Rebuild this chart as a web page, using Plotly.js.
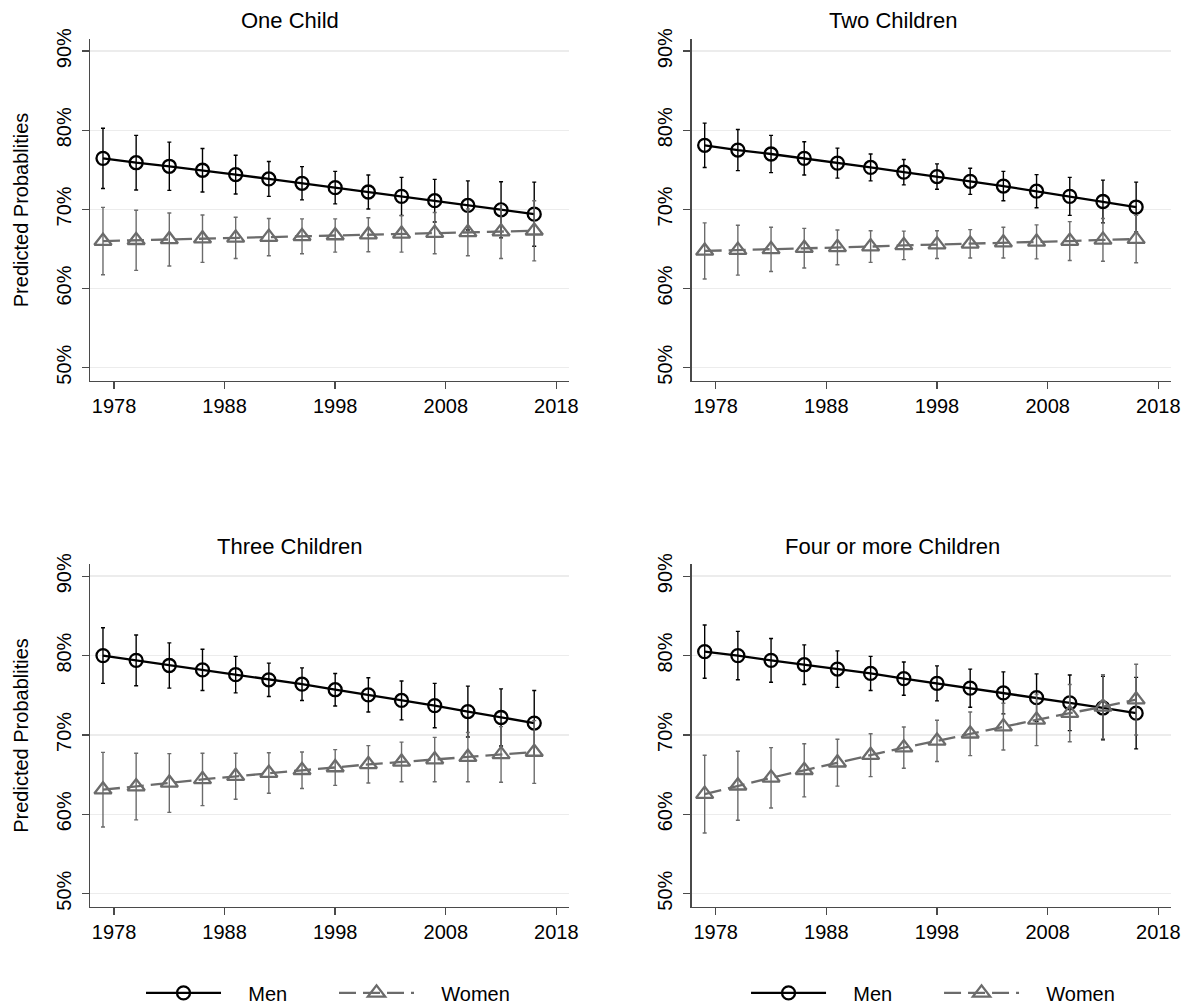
<!DOCTYPE html>
<html>
<head>
<meta charset="utf-8">
<script src="https://cdn.plot.ly/plotly-3.0.1.min.js"></script>
<style>
  html, body { margin: 0; padding: 0; background: #ffffff; }
  #chart { width: 1191px; height: 1007px; }
</style>
</head>
<body>
<div id="chart"></div>
<script>
// Survey years (x positions of every estimate)
const years = [1977, 1980, 1983, 1986, 1989, 1992, 1995, 1998, 2001, 2004, 2007, 2010, 2013, 2016];
const xTicks = [1978, 1988, 1998, 2008, 2018];
const yTicks = [50, 60, 70, 80, 90];
const yTickLabels = ['50%', '60%', '70%', '80%', '90%'];
const panelTitles = ['One Child', 'Two Children', 'Three Children', 'Four or more Children'];
const seriesNames = ['Men', 'Women'];

// Predicted probabilities (%) and half-width of the confidence interval (%)
const oneChildMen     = [76.45, 75.9, 75.45, 74.95, 74.4, 73.85, 73.3, 72.75, 72.2, 71.65, 71.1, 70.5, 69.95, 69.4];
const oneChildMenCI   = [3.8, 3.45, 3.05, 2.75, 2.45, 2.2, 2.1, 2.05, 2.15, 2.4, 2.7, 3.1, 3.55, 4.05];
const oneChildWomen   = [66.0, 66.1, 66.2, 66.3, 66.4, 66.5, 66.6, 66.7, 66.8, 66.9, 67.0, 67.1, 67.2, 67.3];
const oneChildWomenCI = [4.25, 3.8, 3.35, 3.0, 2.6, 2.35, 2.2, 2.1, 2.15, 2.3, 2.6, 2.95, 3.4, 3.8];

const twoChildMen     = [78.1, 77.5, 77.0, 76.45, 75.85, 75.3, 74.7, 74.15, 73.55, 72.95, 72.3, 71.65, 71.0, 70.3];
const twoChildMenCI   = [2.8, 2.6, 2.35, 2.1, 1.9, 1.7, 1.6, 1.6, 1.65, 1.85, 2.1, 2.4, 2.7, 3.15];
const twoChildWomen   = [64.75, 64.85, 64.95, 65.1, 65.2, 65.3, 65.45, 65.55, 65.65, 65.8, 65.9, 66.0, 66.15, 66.25];
const twoChildWomenCI = [3.55, 3.15, 2.8, 2.5, 2.2, 2.0, 1.8, 1.75, 1.8, 1.95, 2.15, 2.45, 2.7, 3.0];

const threeChildMen     = [80.0, 79.4, 78.75, 78.2, 77.6, 76.95, 76.4, 75.7, 75.05, 74.35, 73.7, 72.95, 72.2, 71.5];
const threeChildMenCI   = [3.5, 3.2, 2.85, 2.6, 2.3, 2.1, 2.05, 2.05, 2.15, 2.45, 2.8, 3.2, 3.6, 4.1];
const threeChildWomen   = [63.1, 63.5, 63.95, 64.4, 64.8, 65.2, 65.55, 65.9, 66.3, 66.6, 66.9, 67.2, 67.55, 67.85];
const threeChildWomenCI = [4.7, 4.2, 3.7, 3.3, 2.9, 2.55, 2.3, 2.25, 2.35, 2.5, 2.8, 3.1, 3.5, 3.95];

const fourPlusMen     = [80.5, 80.0, 79.4, 78.85, 78.3, 77.75, 77.1, 76.5, 75.9, 75.3, 74.7, 74.05, 73.4, 72.75];
const fourPlusMenCI   = [3.35, 3.05, 2.75, 2.5, 2.3, 2.15, 2.1, 2.2, 2.4, 2.65, 3.0, 3.5, 4.0, 4.5];
const fourPlusWomen   = [62.55, 63.6, 64.6, 65.55, 66.5, 67.45, 68.4, 69.25, 70.15, 71.05, 71.9, 72.75, 73.55, 74.45];
const fourPlusWomenCI = [4.9, 4.35, 3.8, 3.35, 2.95, 2.7, 2.6, 2.6, 2.75, 2.95, 3.25, 3.6, 4.05, 4.45];

const FONT = 'Liberation Sans, Arial, Helvetica, sans-serif';
const MEN_COLOR = '#000000';
const WOMEN_COLOR = '#6b6b6b';
const AXIS_COLOR = '#4a4a4a';
// leading non-breaking spaces keep a wider gap between legend keys and labels
const LEGEND_PAD = '\u00A0\u00A0\u00A0\u00A0';

const panels = [
  { men: oneChildMen,   menCI: oneChildMenCI,   women: oneChildWomen,   womenCI: oneChildWomenCI,   legend: null },
  { men: twoChildMen,   menCI: twoChildMenCI,   women: twoChildWomen,   womenCI: twoChildWomenCI,   legend: null },
  { men: threeChildMen, menCI: threeChildMenCI, women: threeChildWomen, womenCI: threeChildWomenCI, legend: 'legend' },
  { men: fourPlusMen,   menCI: fourPlusMenCI,   women: fourPlusWomen,   womenCI: fourPlusWomenCI,   legend: 'legend2' }
];

const traces = [];
panels.forEach((p, i) => {
  const sfx = i === 0 ? '' : String(i + 1);
  const common = { x: years, xaxis: 'x' + sfx, yaxis: 'y' + sfx, mode: 'lines+markers', hoverinfo: 'x+y' };
  traces.push(Object.assign({}, common, {
    name: LEGEND_PAD + seriesNames[0],
    y: p.men,
    line: { color: MEN_COLOR, width: 2.3 },
    marker: { symbol: 'circle-open', size: 13, color: MEN_COLOR, line: { width: 2.3, color: MEN_COLOR } },
    error_y: { type: 'data', array: p.menCI, visible: true, color: MEN_COLOR, thickness: 1.4, width: 2 },
    showlegend: p.legend !== null,
    legend: p.legend || 'legend'
  }));
  traces.push(Object.assign({}, common, {
    name: LEGEND_PAD + seriesNames[1],
    y: p.women,
    line: { color: WOMEN_COLOR, width: 2.3, dash: '17px,7px' },
    marker: { symbol: 'triangle-up-open', size: 15, color: WOMEN_COLOR, line: { width: 2.3, color: WOMEN_COLOR } },
    error_y: { type: 'data', array: p.womenCI, visible: true, color: WOMEN_COLOR, thickness: 1.4, width: 2 },
    showlegend: p.legend !== null,
    legend: p.legend || 'legend'
  }));
});

function xAxis(domain, anchor) {
  return {
    domain: domain, anchor: anchor,
    range: [1975.83, 2019.15],
    tickvals: xTicks, ticktext: xTicks.map(String),
    showgrid: false, zeroline: false,
    showline: true, linecolor: AXIS_COLOR, linewidth: 1.4,
    ticks: 'outside', ticklen: 7, tickwidth: 1.4, tickcolor: AXIS_COLOR,
    tickfont: { family: FONT, size: 20, color: '#000' }
  };
}
function yAxis(domain, anchor, withTitle) {
  const ax = {
    domain: domain, anchor: anchor,
    range: [48.36, 91.5],
    tickvals: yTicks, ticktext: yTickLabels, tickangle: -90,
    showgrid: true, gridcolor: '#ececec', gridwidth: 1.5, zeroline: false,
    showline: true, linecolor: AXIS_COLOR, linewidth: 1.4,
    ticks: 'outside', ticklen: 7, tickwidth: 1.4, tickcolor: AXIS_COLOR,
    ticklabelstandoff: 3,
    tickfont: { family: FONT, size: 20, color: '#000' }
  };
  if (withTitle) {
    ax.title = { text: 'Predicted Probablities', font: { family: FONT, size: 20, color: '#000' }, standoff: 18 };
  }
  return ax;
}

const colLeft = [0.0756, 0.4778];
const colRight = [0.5808, 0.9832];
const rowTop = [0.6220, 0.9610];
const rowBottom = [0.0996, 0.4396];

const titlePos = [
  { x: 0.2439, y: 0.9796 },
  { x: 0.7494, y: 0.9796 },
  { x: 0.2439, y: 0.4570 },
  { x: 0.7494, y: 0.4570 }
];

const legendBase = {
  orientation: 'h', xanchor: 'left', yanchor: 'middle', y: 0.014,
  font: { family: FONT, size: 20, color: '#000' },
  itemwidth: 75, entrywidth: 103, entrywidthmode: 'pixels',
  bgcolor: 'rgba(0,0,0,0)', traceorder: 'normal'
};

const layout = {
  width: 1191, height: 1007,
  margin: { l: 0, r: 0, t: 0, b: 0, autoexpand: false },
  paper_bgcolor: '#ffffff', plot_bgcolor: '#ffffff',
  font: { family: FONT, size: 20, color: '#000' },
  xaxis: xAxis(colLeft, 'y'),   yaxis: yAxis(rowTop, 'x', true),
  xaxis2: xAxis(colRight, 'y2'), yaxis2: yAxis(rowTop, 'x2', false),
  xaxis3: xAxis(colLeft, 'y3'),  yaxis3: yAxis(rowBottom, 'x3', true),
  xaxis4: xAxis(colRight, 'y4'), yaxis4: yAxis(rowBottom, 'x4', false),
  legend: Object.assign({}, legendBase, { x: 0.1184 }),
  legend2: Object.assign({}, legendBase, { x: 0.6264 }),
  annotations: panelTitles.map((t, i) => ({
    text: t, xref: 'paper', yref: 'paper', x: titlePos[i].x, y: titlePos[i].y,
    xanchor: 'center', yanchor: 'middle', showarrow: false,
    font: { family: FONT, size: 22, color: '#000' }
  })),
  showlegend: true
};

Plotly.newPlot('chart', traces, layout, { displayModeBar: false, staticPlot: true });
</script>
</body>
</html>
